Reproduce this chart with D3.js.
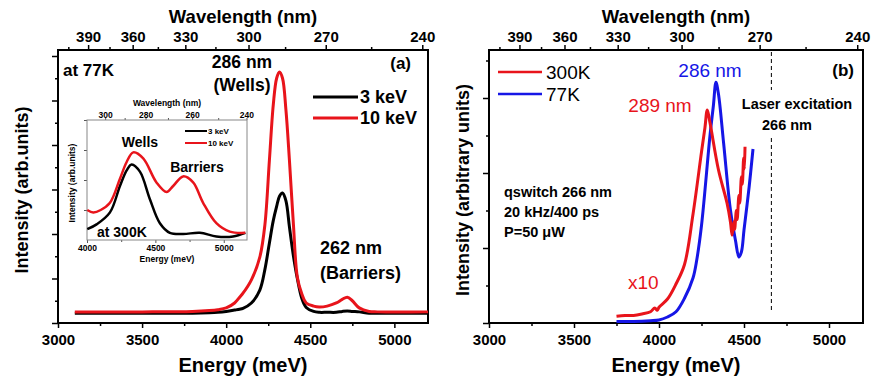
<!DOCTYPE html>
<html>
<head>
<meta charset="utf-8">
<script src="https://cdn.jsdelivr.net/npm/d3@7"></script>
<style>
  body { margin: 0; background: #fff; }
  svg { font-family: "Liberation Sans", Arial, sans-serif; }
  .tick text { font-weight: bold; }
</style>
</head>
<body>
<svg id="chart" width="873" height="379"></svg>
<script>
// ---- data ----
// panel (a), 77K cathodoluminescence
const energyA = [3100, 3500, 3800, 3900, 3950, 4000, 4050, 4080, 4100, 4150, 4200, 4230, 4257, 4280, 4300, 4317, 4335, 4355, 4376, 4400, 4423, 4450, 4476, 4520, 4553, 4600, 4655, 4690, 4720, 4750, 4791, 4850, 4900, 5200];
const red10keV = [0.25, 0.25, 0.26, 0.28, 0.30, 0.34, 0.45, 0.58, 0.67, 0.97, 1.48, 2.2, 3.66, 4.9, 5.5, 5.64, 5.5, 4.8, 3.66, 2.2, 1.03, 0.65, 0.45, 0.38, 0.36, 0.38, 0.45, 0.53, 0.58, 0.5, 0.34, 0.26, 0.25, 0.25];
const black3keV = [0.22, 0.22, 0.22, 0.23, 0.24, 0.26, 0.29, 0.31, 0.33, 0.45, 0.74, 1.2, 1.8, 2.3, 2.62, 2.85, 2.92, 2.75, 2.16, 1.5, 1.0, 0.55, 0.35, 0.26, 0.24, 0.24, 0.24, 0.26, 0.27, 0.26, 0.25, 0.22, 0.22, 0.22];

// inset, 300K
const energyInsetRed = [4002, 4046, 4100, 4168, 4241, 4290, 4338, 4411, 4508, 4582, 4630, 4703, 4776, 4849, 4946, 5044, 5158];
const insetRed = [0.25, 0.23, 0.25, 0.31, 0.51, 0.65, 0.73, 0.68, 0.48, 0.40, 0.45, 0.53, 0.48, 0.31, 0.14, 0.07, 0.06];
const energyInsetBlack = [4002, 4070, 4168, 4241, 4290, 4326, 4387, 4460, 4533, 4606, 4703, 4825, 4946, 5068, 5158];
const insetBlack = [0.09, 0.13, 0.23, 0.45, 0.58, 0.63, 0.57, 0.34, 0.14, 0.06, 0.05, 0.06, 0.03, 0.03, 0.06];

// panel (b), laser excitation
const energy300K = [3750, 3800, 3850, 3900, 3950, 3975, 3990, 4000, 4050, 4100, 4150, 4200, 4250, 4270, 4284, 4300, 4350, 4400, 4420, 4430, 4440, 4445, 4455, 4460, 4470, 4475, 4485, 4490, 4498, 4502, 4506];
const pl300K = [0.09, 0.10, 0.10, 0.12, 0.15, 0.20, 0.17, 0.21, 0.32, 0.52, 0.78, 1.45, 2.28, 2.6, 2.84, 2.67, 2.04, 1.6, 1.35, 1.17, 1.35, 1.25, 1.5, 1.38, 1.7, 1.6, 1.95, 1.85, 2.2, 2.05, 2.35];
const energy77K = [3750, 3850, 3950, 4000, 4050, 4100, 4150, 4200, 4222, 4250, 4300, 4320, 4335, 4350, 4380, 4420, 4450, 4470, 4485, 4500, 4530, 4553];
const pl77K = [0.02, 0.02, 0.03, 0.04, 0.08, 0.15, 0.33, 0.6, 0.84, 1.3, 2.5, 2.9, 3.21, 3.05, 2.4, 1.51, 1.1, 0.88, 0.95, 1.24, 1.81, 2.32];

const energyTicks = [3000, 3500, 4000, 4500, 5000];
const energyMinor = [3250, 3750, 4250, 4750];
const wlTicks = [390, 360, 330, 300, 270, 240];
const wlMinor = [405, 375, 345, 315, 285, 255];
const insetETicks = [4000, 4500, 5000];
const insetEMinor = [4250, 4750];
const insetWlTicks = [300, 280, 260, 240];
const insetWlMinor = [290, 270, 250];
const laserWl = 266;

const HC = 1239841.9; // meV*nm
const RED = "#e8141b", BLUE = "#1616e6";

const svg = d3.select("#chart");

function fontText(g, x, y, s, size, opts) {
  opts = opts || {};
  return g.append("text")
    .attr("x", x).attr("y", y)
    .attr("font-size", size)
    .attr("font-weight", opts.normal ? "normal" : "bold")
    .attr("text-anchor", opts.anchor || "start")
    .attr("dominant-baseline", "central")
    .attr("fill", opts.fill || "#000")
    .text(s);
}

function drawPanel(left, right, yMax) {
  const top = 50, bottom = 323;
  const x = d3.scaleLinear().domain([3000, 5200]).range([left, right]);
  const y = d3.scaleLinear().domain([0, yMax]).range([bottom, top]);
  const g = svg.append("g");

  // bottom energy axis
  g.append("g").attr("transform", `translate(0,${bottom})`)
    .call(d3.axisBottom(x).tickValues(energyMinor).tickSize(3).tickFormat(""));
  g.append("g").attr("transform", `translate(0,${bottom})`)
    .call(d3.axisBottom(x).tickValues(energyTicks).tickSize(5).tickPadding(6).tickFormat(d3.format("d")))
    .selectAll("text").attr("font-size", 15).attr("fill", "#000");

  // top wavelength axis
  g.append("g").attr("transform", `translate(0,${top})`)
    .call(d3.axisTop(x).tickValues(wlMinor.map(w => HC / w)).tickSize(3).tickFormat(""));
  g.append("g").attr("transform", `translate(0,${top})`)
    .call(d3.axisTop(x).tickValues(wlTicks.map(w => HC / w)).tickSize(5).tickPadding(3)
      .tickFormat(e => Math.round(HC / e)))
    .selectAll("text").attr("font-size", 15).attr("fill", "#000");

  // left axis, no labels
  const maj = d3.range(0, Math.floor(yMax) + 1);
  const minr = d3.range(0.5, yMax, 1);
  g.append("g").attr("transform", `translate(${left},0)`)
    .call(d3.axisLeft(y).tickValues(minr).tickSize(3).tickFormat(""));
  g.append("g").attr("transform", `translate(${left},0)`)
    .call(d3.axisLeft(y).tickValues(maj).tickSize(6).tickFormat(""));

  g.selectAll(".domain").remove();
  g.selectAll(".tick line").attr("stroke", "#000").attr("stroke-width", 1.5);

  g.append("rect").attr("x", left).attr("y", top)
    .attr("width", right - left).attr("height", bottom - top)
    .attr("fill", "none").attr("stroke", "#000").attr("stroke-width", 2);

  fontText(g, (left + right) / 2, 16, "Wavelength (nm)", 18.5, { anchor: "middle" });
  fontText(g, (left + right) / 2, 365, "Energy (meV)", 20, { anchor: "middle" });
  return { g, x, y };
}

function line(x, y, xs, ys) {
  return d3.line().x((d, i) => x(xs[i])).y(d => y(d)).curve(d3.curveCatmullRom.alpha(0.5))(ys);
}

// ---------- panel (a) ----------
const A = drawPanel(58, 428, 273 / 44.5);
A.g.append("path").attr("d", line(A.x, A.y, energyA, black3keV))
  .attr("fill", "none").attr("stroke", "#000").attr("stroke-width", 3);
A.g.append("path").attr("d", line(A.x, A.y, energyA, red10keV))
  .attr("fill", "none").attr("stroke", RED).attr("stroke-width", 3);

A.g.append("text").attr("transform", "translate(22,190) rotate(-90)")
  .attr("text-anchor", "middle").attr("dominant-baseline", "central")
  .attr("font-size", 18).attr("font-weight", "bold").text("Intensity (arb.units)");

fontText(A.g, 63, 70, "at 77K", 17);
fontText(A.g, 411, 63, "(a)", 17, { anchor: "end" });
fontText(A.g, 242, 62, "286 nm", 17.5, { anchor: "middle" });
fontText(A.g, 242, 85, "(Wells)", 17.5, { anchor: "middle" });
fontText(A.g, 320, 248, "262 nm", 18);
fontText(A.g, 320, 273, "(Barriers)", 18);

// legend (a)
[["3 keV", "#000", 97], ["10 keV", RED, 118]].forEach(([t, c, ly]) => {
  A.g.append("line").attr("x1", 313).attr("x2", 358).attr("y1", ly).attr("y2", ly)
    .attr("stroke", c).attr("stroke-width", 3);
  fontText(A.g, 360, ly, t, 18);
});

// ---------- inset ----------
const ix = d3.scaleLinear().domain([4000, 5170]).range([87, 247]);
const iy = d3.scaleLinear().domain([0, 1]).range([240, 120]);
const ig = svg.append("g");
ig.append("rect").attr("x", 87).attr("y", 120).attr("width", 160).attr("height", 120)
  .attr("fill", "#fff");
ig.append("g").attr("transform", "translate(0,240)")
  .call(d3.axisBottom(ix).tickValues(insetEMinor).tickSize(2).tickFormat(""));
ig.append("g").attr("transform", "translate(0,240)")
  .call(d3.axisBottom(ix).tickValues(insetETicks).tickSize(3).tickPadding(2).tickFormat(d3.format("d")))
  .selectAll("text").attr("font-size", 8.5).attr("fill", "#000");
ig.append("g").attr("transform", "translate(0,120)")
  .call(d3.axisTop(ix).tickValues(insetWlMinor.map(w => HC / w)).tickSize(2).tickFormat(""));
ig.append("g").attr("transform", "translate(0,120)")
  .call(d3.axisTop(ix).tickValues(insetWlTicks.map(w => HC / w)).tickSize(2).tickPadding(0)
    .tickFormat(e => Math.round(HC / e)))
  .selectAll("text").attr("font-size", 8.5).attr("fill", "#000");
ig.append("g").attr("transform", "translate(87,0)")
  .call(d3.axisLeft(iy).tickValues([0.25, 0.5, 0.75, 1]).tickSize(3).tickFormat(""));
ig.selectAll(".domain").remove();
ig.selectAll(".tick line").attr("stroke", "#555");
ig.append("rect").attr("x", 87).attr("y", 120).attr("width", 160).attr("height", 120)
  .attr("fill", "none").attr("stroke", "#888").attr("stroke-width", 1);

ig.append("path").attr("d", line(ix, iy, energyInsetBlack, insetBlack))
  .attr("fill", "none").attr("stroke", "#000").attr("stroke-width", 2.5);
ig.append("path").attr("d", line(ix, iy, energyInsetRed, insetRed))
  .attr("fill", "none").attr("stroke", RED).attr("stroke-width", 2.5);

fontText(ig, 167, 103, "Wavelength (nm)", 8.5, { anchor: "middle" });
fontText(ig, 167, 259, "Energy (meV)", 8.5, { anchor: "middle" });
ig.append("text").attr("transform", "translate(72,183) rotate(-90)")
  .attr("text-anchor", "middle").attr("dominant-baseline", "central")
  .attr("font-size", 8.5).attr("font-weight", "bold").text("Intensity (arb.units)");
fontText(ig, 140, 142, "Wells", 14, { anchor: "middle" });
fontText(ig, 197, 167, "Barriers", 14, { anchor: "middle" });
fontText(ig, 97, 232, "at 300K", 14);
[["3 keV", "#000", 131], ["10 keV", RED, 143]].forEach(([t, c, ly]) => {
  ig.append("line").attr("x1", 185).attr("x2", 207).attr("y1", ly).attr("y2", ly)
    .attr("stroke", c).attr("stroke-width", 2);
  fontText(ig, 208, ly, t, 8);
});

// ---------- panel (b) ----------
const B = drawPanel(489, 863, 273 / 75);
const lx = B.x(HC / laserWl);
B.g.append("line").attr("x1", lx).attr("x2", lx).attr("y1", 52).attr("y2", 90)
  .attr("stroke", "#000").attr("stroke-width", 1).attr("stroke-dasharray", "4,3");
B.g.append("line").attr("x1", lx).attr("x2", lx).attr("y1", 138).attr("y2", 313)
  .attr("stroke", "#000").attr("stroke-width", 1).attr("stroke-dasharray", "4,3");

B.g.append("path").attr("d", line(B.x, B.y, energy77K, pl77K))
  .attr("fill", "none").attr("stroke", BLUE).attr("stroke-width", 3);
B.g.append("path").attr("d", line(B.x, B.y, energy300K, pl300K))
  .attr("fill", "none").attr("stroke", RED).attr("stroke-width", 3);

B.g.append("text").attr("transform", "translate(463,190) rotate(-90)")
  .attr("text-anchor", "middle").attr("dominant-baseline", "central")
  .attr("font-size", 18).attr("font-weight", "bold").text("Intensity (arbitrary units)");

[["300K", RED, 72], ["77K", BLUE, 94]].forEach(([t, c, ly]) => {
  B.g.append("line").attr("x1", 498).attr("x2", 542).attr("y1", ly).attr("y2", ly)
    .attr("stroke", c).attr("stroke-width", 2.5);
  fontText(B.g, 546, ly, t, 19, { normal: true });
});
fontText(B.g, 854, 70, "(b)", 17, { anchor: "end" });
fontText(B.g, 710, 70, "286 nm", 19, { anchor: "middle", normal: true, fill: BLUE });
fontText(B.g, 660, 105, "289 nm", 19, { anchor: "middle", normal: true, fill: RED });
fontText(B.g, 797, 104, "Laser excitation", 14.5, { anchor: "middle" });
fontText(B.g, 787, 125, "266 nm", 14.5, { anchor: "middle" });
fontText(B.g, 504, 192, "qswitch 266 nm", 14.5);
fontText(B.g, 504, 212, "20 kHz/400 ps", 14.5);
fontText(B.g, 504, 232, "P=50 μW", 14.5);
fontText(B.g, 628, 282, "x10", 19, { normal: true, fill: RED });
</script>
</body>
</html>
